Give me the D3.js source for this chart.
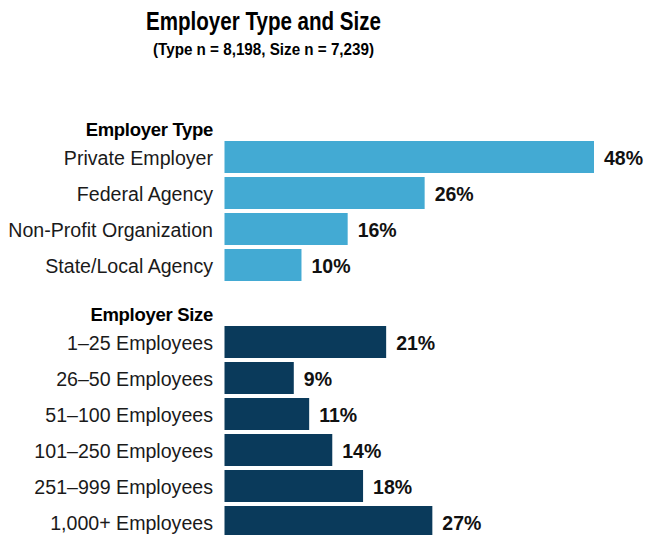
<!DOCTYPE html>
<html><head><meta charset="utf-8">
<script src="https://cdn.jsdelivr.net/npm/d3@7"></script>
<style>body{margin:0;background:#fff}svg{display:block}</style>
</head><body>
<script>
const typeCats = ["Private Employer","Federal Agency","Non-Profit Organization","State/Local Agency"];
const typeVals = [48,26,16,10];
const sizeCats = ["1\u201325 Employees","26\u201350 Employees","51\u2013100 Employees","101\u2013250 Employees","251\u2013999 Employees","1,000+ Employees"];
const sizeVals = [21,9,11,14,18,27];
const groupTitles = ["Employer Type","Employer Size"];

const W=646,H=535;
const svg=d3.select("body").append("svg").attr("width",W).attr("height",H);
const labelFont="'Liberation Sans',Arial,sans-serif";

svg.append("text").attr("x",264).attr("y",30).attr("text-anchor","middle")
  .attr("x",146).attr("text-anchor","start").attr("textLength",235).attr("lengthAdjust","spacingAndGlyphs")
  .style("font-family",labelFont).style("font-weight","bold").style("font-size","25px")
  .text("Employer Type and Size");
svg.append("text").attr("x",153).attr("y",55).attr("textLength",221).attr("lengthAdjust","spacingAndGlyphs")
  .style("font-family",labelFont).style("font-weight","bold").style("font-size","16px")
  .text("(Type n = 8,198, Size n = 7,239)");

const x=d3.scaleLinear().domain([0,48]).range([224.5,594]);

function group(cats,vals,top,color,title){
  const y=d3.scaleBand().domain(cats).range([top,top+cats.length*36-4]).paddingInner(4/36).paddingOuter(0);
  const g=svg.append("g");
  g.append("text").attr("x",213).attr("y",top-5).attr("text-anchor","end")
    .style("font-family",labelFont).style("font-weight","bold").style("font-size","18.5px").style("letter-spacing","-0.3px")
    .text(title);
  g.selectAll("rect").data(cats).join("rect")
    .attr("x",x(0)).attr("y",d=>y(d)).attr("width",(d,i)=>x(vals[i])-x(0)).attr("height",y.bandwidth()).attr("fill",color);
  g.selectAll("text.cat").data(cats).join("text").attr("class","cat")
    .attr("x",213).attr("y",d=>y(d)+y.bandwidth()/2+7.5).attr("text-anchor","end")
    .style("font-family",labelFont).style("font-size","19.6px").style("fill","#1a1a1a")
    .text(d=>d);
  g.selectAll("text.val").data(cats).join("text").attr("class","val")
    .attr("x",(d,i)=>x(vals[i])+10).attr("y",d=>y(d)+y.bandwidth()/2+7.5)
    .style("font-family",labelFont).style("font-weight","bold").style("font-size","19.5px").style("fill","#111")
    .text((d,i)=>vals[i]+"%");
}
group(typeCats,typeVals,141,"#43aad3",groupTitles[0]);
group(sizeCats,sizeVals,326,"#0a3a5b",groupTitles[1]);
</script>
</body></html>
